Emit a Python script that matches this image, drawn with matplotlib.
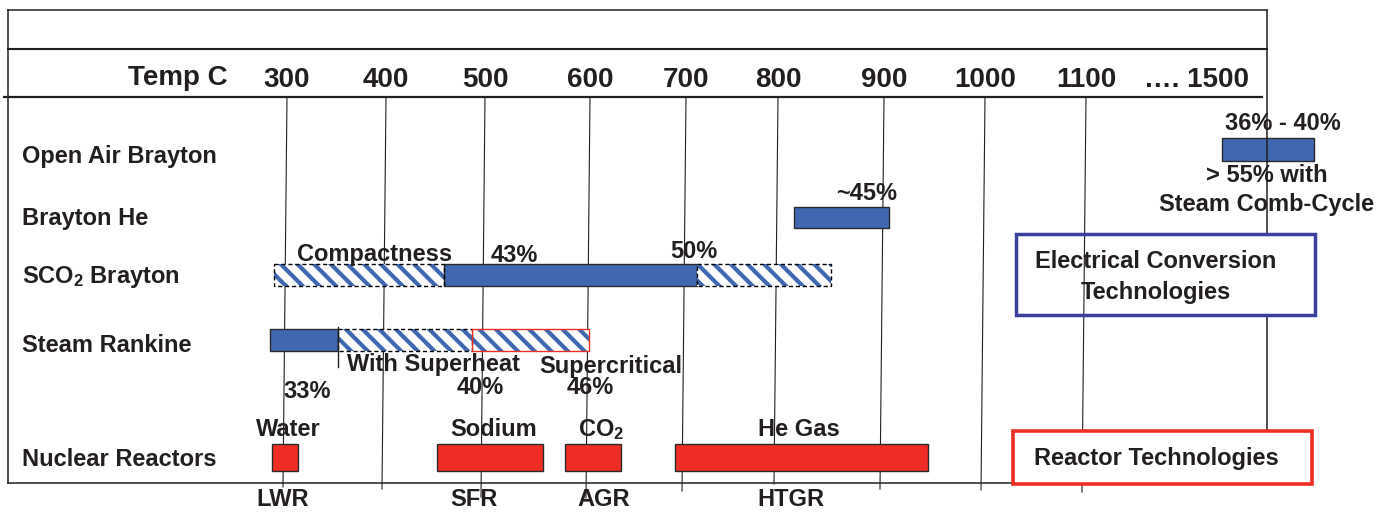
import numpy as np
import matplotlib.pyplot as plt
from matplotlib.patches import Rectangle

plt.rcParams['font.family'] = ['Liberation Sans', 'DejaVu Sans']
plt.rcParams['font.weight'] = 'bold'
plt.rcParams['mathtext.fontset'] = 'custom'
plt.rcParams['mathtext.rm'] = 'Liberation Sans:bold'
plt.rcParams['mathtext.bf'] = 'Liberation Sans:bold'
plt.rcParams['mathtext.it'] = 'Liberation Sans:bold'
plt.rcParams['hatch.linewidth'] = 3.0

# --- data ---
temp_ticks = [300, 400, 500, 600, 700, 800, 900, 1000, 1100]
tick_labels = ['300', '400', '500', '600', '700', '800', '900', '1000', '1100']
last_label = '…. 1500'

rows = ['Open Air Brayton', 'Brayton He', 'SCO$_2$ Brayton', 'Steam Rankine', 'Nuclear Reactors']

# temperature ranges of each bar segment
bar_row = [0, 1, 2, 2, 2, 3, 3, 3, 4, 4, 4, 4]
bar_start = [1403, 815, 287, 459, 712, 283, 352, 487, 285, 452, 576, 689]
bar_end = [1607, 905, 459, 712, 850, 352, 487, 599, 311, 555, 632, 944]
bar_kind = ['solid', 'solid', 'hatch', 'solid', 'hatch', 'solid', 'hatch', 'hatch_red',
            'reactor', 'reactor', 'reactor', 'reactor']

note_text = ['36% - 40%', '> 55% with', 'Steam Comb-Cycle', '~45%', 'Compactness', '43%', '50%',
             'With Superheat', 'Supercritical', '33%', '40%', '46%']
note_temp = [1538, 1502, 1502, 884, 388, 528, 709, 448, 622, 320, 495, 600]

coolants = ['Water', 'Sodium', 'CO$_2$', 'He Gas']
coolant_temp = [301, 508, 612, 820]
reactor_types = ['LWR', 'SFR', 'AGR', 'HTGR']
reactor_temp = [296, 489, 614, 812]

# --- layout (pixels) ---
W, H = 1382, 513
note_y = [124, 176, 204, 194, 255, 256, 251, 365, 367, 392, 387, 388]
row_label_y = [157, 219, 277, 345, 460]
row_bar_y = [149.5, 217.5, 275, 340, 457]
row_bar_h = [23, 21, 22, 22, 27]

blue = '#4068B1'
red = '#EE2E24'
navy = '#3B3F9C'
ink = '#231F20'
edge = '#2A2A2A'

# the drawing's temperature axis is uneven and jumps from 1100 to 1500
scale_temp = np.array([0, 300, 400, 500, 600, 700, 800, 900, 1000, 1100, 1500, 2500])
scale_px = np.array([-13, 287, 386, 485, 590, 686, 778, 884, 985, 1086, 1266, 1716])


def forward(t):
    return np.interp(t, scale_temp, scale_px)


def inverse(p):
    return np.interp(p, scale_px, scale_temp)


fig = plt.figure(figsize=(W / 100, H / 100), dpi=100)
fig.patch.set_facecolor('white')

ax = fig.add_axes([0, 0, 1, 1])
ax.set_xscale('function', functions=(forward, inverse))
ax.set_xlim(inverse(0), inverse(W))
ax.set_ylim(H, 0)
ax.axis('off')

pix = fig.add_axes([0, 0, 1, 1])
pix.set_xlim(0, W)
pix.set_ylim(H, 0)
pix.axis('off')
pix.patch.set_alpha(0)

# slightly slanted vertical grid lines
line_bottom = [487, 489, 497, 498, 491, 484, 489, 490, 492]
for t, lab, yb in zip(temp_ticks, tick_labels, line_bottom):
    ax.plot([t, inverse(forward(t) - 4)], [97, yb], color=ink, lw=0.8, zorder=1)
    ax.text(t, 80, lab, ha='center', va='center', fontsize=20, color=ink)
pix.text(1197, 80, last_label, ha='center', va='center', fontsize=20, color=ink)
pix.text(178, 78, 'Temp C', ha='center', va='center', fontsize=20, color=ink)

# bars
for r, s, e, k in zip(bar_row, bar_start, bar_end, bar_kind):
    y = row_bar_y[r]
    h = row_bar_h[r]
    if k == 'solid':
        ax.barh(y, e - s, left=s, height=h, color=blue, edgecolor=edge, lw=1.0, zorder=3)
    elif k == 'reactor':
        ax.barh(y, e - s, left=s, height=h, color=red, edgecolor=edge, lw=1.0, zorder=3)
    else:
        ax.barh(y, e - s, left=s, height=h, color='white', edgecolor=blue, hatch='\\\\',
                lw=0, zorder=3)
        if k == 'hatch':
            ax.barh(y, e - s, left=s, height=h, color='none', edgecolor='black',
                    lw=1.0, ls=(0, (3, 2)), zorder=4)
        else:
            ax.barh(y, e - s, left=s, height=h, color='none', edgecolor=red,
                    lw=1.0, zorder=4)

# tick between steam rankine segments
ax.plot([bar_start[6], bar_start[6]], [327, 367], color=ink, lw=1.0, zorder=5)

for txt, t, y in zip(note_text, note_temp, note_y):
    ax.text(t, y, txt, ha='center', va='center', fontsize=17, color=ink, zorder=6)
for txt, t in zip(coolants, coolant_temp):
    ax.text(t, 430, txt, ha='center', va='center', fontsize=17, color=ink, zorder=6)
for txt, t in zip(reactor_types, reactor_temp):
    ax.text(t, 500, txt, ha='center', va='center', fontsize=17, color=ink, zorder=6)

for lab, y in zip(rows, row_label_y):
    pix.text(22, y, lab, ha='left', va='center', fontsize=17, color=ink)

# frame
fr = dict(color=ink, lw=1.1)
pix.plot([8, 1267], [10, 10], **fr)
pix.plot([8, 1267], [49, 49], color=ink, lw=1.5)
pix.plot([4, 1262], [97, 97], color=ink, lw=1.6)
pix.plot([8, 8], [10, 483], **fr)
pix.plot([8, 1012], [483, 483], **fr)
pix.plot([1267, 1267], [10, 234], **fr)
pix.plot([1267, 1267], [315, 430], **fr)

pix.add_patch(Rectangle((1016, 234), 299, 81, facecolor='none', edgecolor=navy, lw=2.5, zorder=5))
pix.text(1156, 262, 'Electrical Conversion', ha='center', va='center', fontsize=17, color=ink)
pix.text(1156, 293, 'Technologies', ha='center', va='center', fontsize=17, color=ink)

pix.add_patch(Rectangle((1013, 431), 299, 53, facecolor='white', edgecolor=red, lw=2.6, zorder=5))
pix.text(1156, 458, 'Reactor Technologies', ha='center', va='center', fontsize=17, color=ink, zorder=6)

fig.savefig('out.png', dpi=100)
